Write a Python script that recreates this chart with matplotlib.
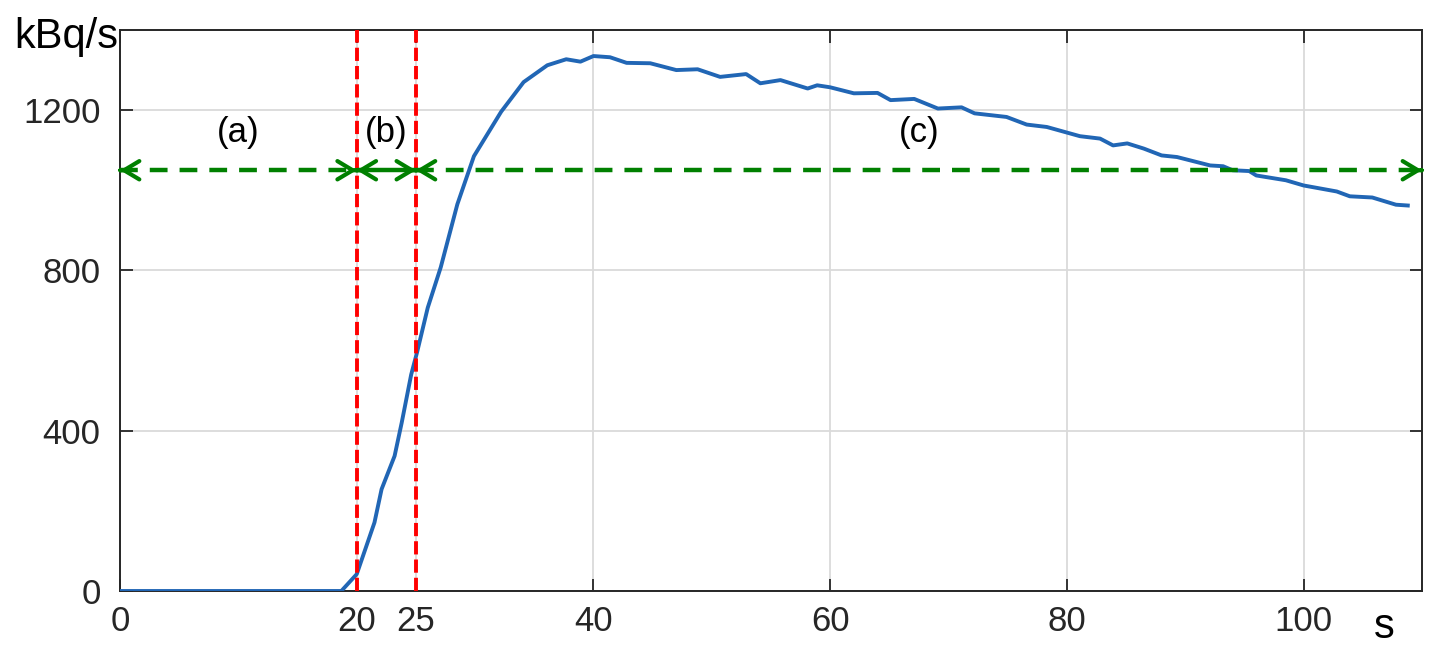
import matplotlib.pyplot as plt

# activity curve (s, kBq/s)
t = [0, 18.7, 20, 21.5, 22.1, 23.2, 23.8, 24.6, 25.1, 26.0, 27.1, 28.5, 29.9,
     32.2, 34.1, 36.1, 37.7, 38.9, 40, 41.4, 42.8, 44.8, 47.0, 48.8, 50.7,
     52.9, 54.1, 55.8, 58.1, 58.9, 60, 62.0, 64.0, 65.1, 67.1, 69.1, 71.1,
     72.2, 74.9, 76.6, 78.3, 81.1, 82.8, 83.9, 85.1, 86.5, 88.0, 89.3, 92.1,
     93.2, 94.0, 95.4, 96.0, 98.5, 100, 102.8, 103.9, 105.8, 107.8, 108.8]
rate = [0, 0, 42, 171, 254, 337, 420, 540, 596, 707, 808, 965, 1085,
        1196, 1270, 1312, 1327, 1321, 1335, 1332, 1318, 1317, 1300, 1302, 1283,
        1290, 1267, 1275, 1254, 1262, 1257, 1242, 1243, 1225, 1228, 1204, 1207,
        1192, 1183, 1164, 1158, 1135, 1129, 1112, 1117, 1104, 1087, 1083, 1062,
        1060, 1050, 1048, 1037, 1025, 1012, 997, 985, 982, 964, 962]

phase_bounds = [0, 20, 25, 110]
phase_labels = ['(a)', '(b)', '(c)']
phase_label_x = [10, 22.5, 67.5]
x_ticks = [0, 20, 25, 40, 60, 80, 100]
y_ticks = [0, 400, 800, 1200]

plt.rcParams['font.family'] = ['Liberation Sans', 'DejaVu Sans']

fig = plt.figure(figsize=(14.4, 6.56), dpi=100)
ax = fig.add_axes([120/1440, 1 - 591/656, 1302/1440, 561/656])

ax.plot(t, rate, color='#2166b5', lw=2.8, zorder=3)

# phase boundaries
for xb in phase_bounds[1:3]:
    ax.axvline(xb, color='red', lw=2.8, ls=(0, (3.4, 1.3)), zorder=4)

# phase arrows
ya = 1050
green = '#008000'
for i in range(3):
    x0, x1 = phase_bounds[i], phase_bounds[i + 1]
    ls = '-' if i == 1 else (0, (4.0, 2.7))
    ax.plot([x0, x1], [ya, ya], color=green, lw=3.2, ls=ls, zorder=5,
            clip_on=False, solid_capstyle='butt', dash_capstyle='butt')
    for xe, d in ((x0, 0.05), (x1, -0.05)):
        ax.annotate('', xy=(xe, ya), xytext=(xe + d, ya), zorder=5,
                    annotation_clip=False,
                    arrowprops=dict(arrowstyle='->,head_length=0.55,head_width=0.33',
                                    mutation_scale=20, color=green, lw=3.0,
                                    shrinkA=0, shrinkB=0))
    ax.text(phase_label_x[i], 1145, phase_labels[i], fontsize=25,
            ha='center', va='center')

ax.set_xlim(0, 110)
ax.set_ylim(0, 1400)
ax.set_xticks(x_ticks)
ax.set_yticks(y_ticks)
ax.grid(True, color='#dadada', lw=1.3)
ax.set_axisbelow(True)
ax.tick_params(direction='in', length=9, width=1.3, labelsize=25,
               colors='#262626', top=True, right=True, pad=10)
ax.tick_params(axis='y', pad=14)
for s in ax.spines.values():
    s.set_color('#262626')
    s.set_linewidth(1.4)

fig.text(14/1440, 1 - 48/656, 'kBq/s', fontsize=30, va='baseline')
fig.text(1384/1440, 1 - 638/656, 's', fontsize=30, ha='center', va='baseline')

fig.savefig('out.png', dpi=100)
